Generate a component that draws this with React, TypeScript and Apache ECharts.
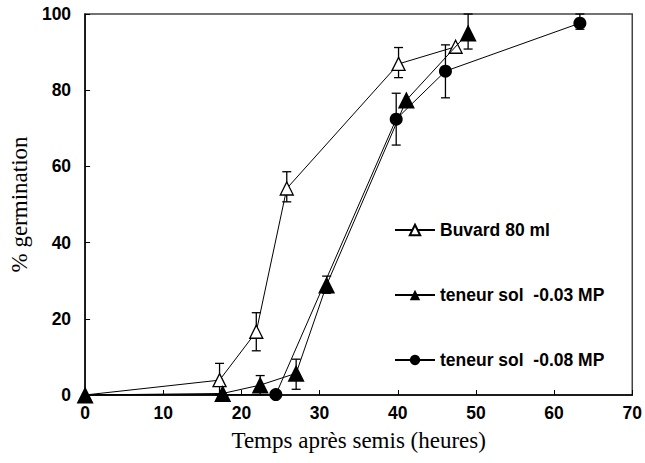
import React, { useEffect, useRef } from "react";
import * as echarts from "echarts";

const xTicks = [0, 10, 20, 30, 40, 50, 60, 70];
const yTicks = [0, 20, 40, 60, 80, 100];

const seriesNames = ["Buvard 80 ml", "teneur sol  -0.03 MPa", "teneur sol  -0.08 MPa"];

const buvard: number[][] = [
  [0, 0], [17.2, 3.9], [21.9, 16.6], [25.8, 54.2], [40.1, 86.9], [47.4, 91.4],
];
const sol003: number[][] = [
  [0, 0], [17.6, 0.4], [22.4, 2.6], [27.0, 5.7], [30.9, 28.9], [41.1, 77.4], [49.0, 95.0],
];
const sol008: number[][] = [
  [0, 0], [24.4, 0.1], [39.8, 72.4], [46.1, 85.0], [63.3, 97.6],
];

// [x, low, high]
const buvardErr: number[][] = [
  [17.2, 0, 8.3], [21.9, 11.6, 21.6], [25.8, 50.7, 58.6], [40.1, 83.3, 91.2],
];
const sol003Err: number[][] = [
  [22.4, 0.1, 5.1], [27.0, 1.5, 9.4], [30.9, 26.7, 31.2], [49.0, 90.8, 100],
];
const sol008Err: number[][] = [
  [39.8, 65.6, 79.2], [46.1, 78.0, 91.9], [63.3, 96.0, 100],
];

const SANS = "'Liberation Sans', Arial, sans-serif";
const SERIF = "'Liberation Serif', 'Times New Roman', serif";

function errSeries(data: number[][]) {
  return {
    type: "custom",
    data,
    encode: { x: 0, y: [1, 2] },
    z: 1,
    silent: true,
    renderItem: (params: any, api: any) => {
      const x = api.value(0);
      const lo = api.value(1);
      const hi = api.value(2);
      const pHi = api.coord([x, hi]);
      const pLo = api.coord([x, lo]);
      const w = 4.5;
      const style = { stroke: "#000", lineWidth: 1.3 };
      return {
        type: "group",
        children: [
          { type: "line", shape: { x1: pHi[0], y1: pHi[1], x2: pLo[0], y2: pLo[1] }, style },
          { type: "line", shape: { x1: pHi[0] - w, y1: pHi[1], x2: pHi[0] + w, y2: pHi[1] }, style },
          { type: "line", shape: { x1: pLo[0] - w, y1: pLo[1], x2: pLo[0] + w, y2: pLo[1] }, style },
        ],
      };
    },
  };
}

// the origin point is shared by all three series; only the solid triangle shows there
const hideAtOrigin = (pts: number[][]) =>
  pts.map((p, i) => (i === 0 ? { value: p, symbol: "none" } : p));

export default function App() {
  const ref = useRef<HTMLDivElement>(null);
  useEffect(() => {
    if (!ref.current) return;
    const chart = echarts.init(ref.current, undefined, { renderer: "svg" });
    chart.setOption({
      animation: false,
      backgroundColor: "#fff",
      grid: {
        left: 84, top: 14, right: 12, bottom: 68,
        show: true, borderColor: "#444", borderWidth: 1.5, backgroundColor: "transparent",
      },
      legend: {
        orient: "vertical",
        left: 394,
        top: 221,
        padding: 0,
        itemGap: 47,
        itemWidth: 40,
        itemHeight: 13,
        data: seriesNames,
        textStyle: {
          fontFamily: SANS, fontWeight: "bold", fontSize: 17.5, color: "#000",
          width: 170, overflow: "truncate", ellipsis: "",
        },
      },
      xAxis: {
        type: "value",
        min: xTicks[0],
        max: xTicks[xTicks.length - 1],
        interval: 10,
        name: "Temps après semis (heures)",
        nameLocation: "middle",
        nameGap: 34,
        nameTextStyle: { fontFamily: SERIF, fontSize: 23, color: "#000" },
        axisLine: { lineStyle: { color: "#000", width: 1.5 } },
        axisTick: { inside: true, length: 5, lineStyle: { color: "#000" } },
        axisLabel: { fontFamily: SANS, fontWeight: "bold", fontSize: 17.5, color: "#000", margin: 9 },
        splitLine: { show: false },
      },
      yAxis: {
        type: "value",
        min: yTicks[0],
        max: yTicks[yTicks.length - 1],
        interval: 20,
        name: "% germination",
        nameLocation: "middle",
        nameGap: 50,
        nameTextStyle: { fontFamily: SERIF, fontSize: 23, color: "#000" },
        axisLine: { lineStyle: { color: "#000", width: 1.5 } },
        axisTick: { inside: true, length: 5, lineStyle: { color: "#000" } },
        axisLabel: { fontFamily: SANS, fontWeight: "bold", fontSize: 17.5, color: "#000", margin: 14 },
        splitLine: { show: false },
      },
      series: [
        errSeries(buvardErr),
        errSeries(sol003Err),
        errSeries(sol008Err),
        {
          name: seriesNames[2],
          type: "line",
          data: hideAtOrigin(sol008),
          z: 2,
          clip: false,
          symbol: "circle",
          symbolSize: 13,
          lineStyle: { color: "#000", width: 1 },
          itemStyle: { color: "#000", borderColor: "#000", borderWidth: 0 },
        },
        {
          name: seriesNames[0],
          type: "line",
          data: hideAtOrigin(buvard),
          z: 3,
          clip: false,
          symbol: "triangle",
          symbolSize: 13,
          lineStyle: { color: "#000", width: 1 },
          itemStyle: { color: "#fff", borderColor: "#000", borderWidth: 1.3 },
        },
        {
          name: seriesNames[1],
          type: "line",
          data: sol003,
          z: 5,
          clip: false,
          symbol: "triangle",
          symbolSize: 17,
          lineStyle: { color: "#000", width: 1 },
          itemStyle: { color: "#000", borderColor: "#000", borderWidth: 0 },
        },
      ],
    });
    return () => chart.dispose();
  }, []);
  return (
    <div
      ref={ref}
      style={{ position: "fixed", left: 0, top: 0, width: 645, height: 463, background: "#fff" }}
    />
  );
}
